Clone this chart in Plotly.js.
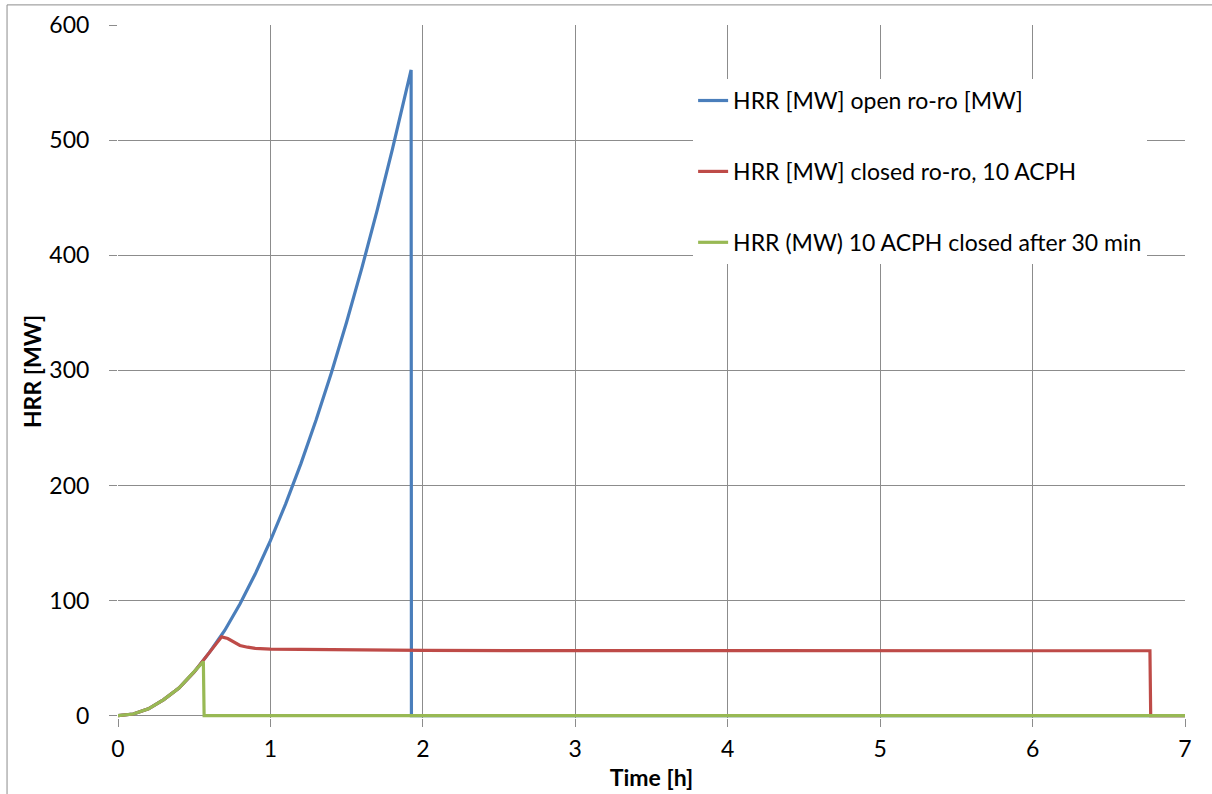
<!DOCTYPE html>
<html>
<head>
<meta charset="utf-8">
<script src="https://cdn.plot.ly/plotly-3.0.1.min.js"></script>
<style>html,body{margin:0;padding:0;background:#fff;}#chart{width:1212px;height:794px;}</style>
</head>
<body>
<div id="chart"></div>
<script>
// Open ro-ro
const openTime = [0,0.1,0.2,0.3,0.4,0.5,0.6,0.7,0.8,0.9,1.0,1.1,1.2,1.3,1.4,1.5,1.6,1.7,1.8,1.9,1.923,1.925,7];
const openHRR  = [0,1.5,6,14,24,38,55,74,97,123,152,184,219,257,298,342,389,439,492,548,561,0,0];
// Closed ro-ro, 10 ACPH
const closedTime = [0,0.1,0.2,0.3,0.4,0.5,0.6,0.65,0.68,0.72,0.76,0.8,0.85,0.9,1.0,1.5,2,3,4,5,6,6.77,6.775,7];
const closedHRR  = [0,1.5,6,14,24,38,55,64,68.5,67,64,61,59.5,58.5,57.8,57,56.7,56.5,56.4,56.4,56.4,56.4,0,0];
// 10 ACPH closed after 30 min
const after30Time = [0,0.1,0.2,0.3,0.4,0.5,0.56,0.565,7];
const after30HRR  = [0,1.5,6,14,24,38,47,0,0];

const names = ["HRR [MW] open ro-ro [MW]", "HRR [MW] closed ro-ro, 10 ACPH", "HRR (MW) 10 ACPH closed after 30 min"];
const colors = ["#4A7EBB", "#BE4B48", "#98B954"];
const xTicks = [0,1,2,3,4,5,6,7];
const yTicks = [0,100,200,300,400,500,600];

const series = [[openTime, openHRR], [closedTime, closedHRR], [after30Time, after30HRR]];
const traces = series.map((s, i) => ({
  x: s[0], y: s[1], type: "scatter", mode: "lines", name: names[i],
  legendgroup: "g" + i,
  line: {color: colors[i], width: 3.2}
}));

const fontFam = "Lato, 'Open Sans', sans-serif";
const layout = {
  width: 1212, height: 794,
  margin: {l: 118, r: 27, t: 25, b: 76},
  paper_bgcolor: "#ffffff", plot_bgcolor: "#ffffff",
  font: {family: fontFam, size: 23, color: "#000"},
  showlegend: true,
  legend: {
    x: 0.539, y: 0.922, xanchor: "left", yanchor: "top",
    bgcolor: "#ffffff", borderwidth: 0,
    traceorder: "grouped", tracegroupgap: 38,
    font: {family: fontFam, size: 23, color: "#000"}
  },
  xaxis: {
    range: [0, 7], tickvals: xTicks, ticktext: xTicks.map(String),
    showgrid: true, gridcolor: "#8c8c8c", gridwidth: 1,
    zeroline: false, showline: false,
    ticks: "outside", ticklen: 8, tickcolor: "#8c8c8c",
    ticklabelstandoff: 2,
    tickfont: {size: 23},
    title: {text: "<b>Time [h]</b>", font: {size: 23}, standoff: 9}
  },
  yaxis: {
    range: [-2, 600], tickvals: yTicks, ticktext: yTicks.map(String),
    showgrid: true, gridcolor: "#8c8c8c", gridwidth: 1,
    zeroline: false, showline: false,
    ticks: "outside", ticklen: 8, tickcolor: "#8c8c8c",
    ticklabelstandoff: 15,
    tickfont: {size: 23},
    title: {text: "<b>HRR [MW]</b>", font: {size: 23}, standoff: 1}
  },
  shapes: [
    {type: "line", xref: "paper", yref: "paper", x0: -0.104, x1: 1.05, y0: 1.029, y1: 1.029, line: {color: "#8c8c8c", width: 1}},
    {type: "line", xref: "paper", yref: "paper", x0: -0.104, x1: -0.104, y0: 1.029, y1: -0.15, line: {color: "#8c8c8c", width: 1}}
  ]
};

Plotly.newPlot("chart", traces, layout, {displayModeBar: false, staticPlot: true});
</script>
</body>
</html>
